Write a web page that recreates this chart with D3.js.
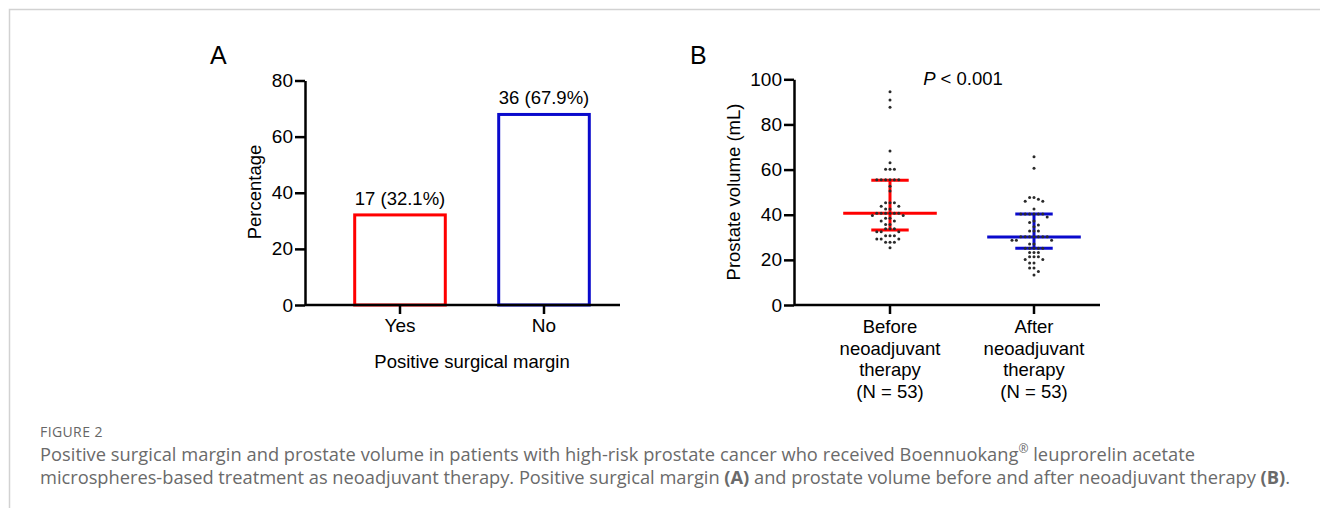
<!DOCTYPE html>
<html>
<head>
<meta charset="utf-8">
<script src="https://cdn.jsdelivr.net/npm/d3@7"></script>
<style>
  body { margin: 0; background: #fff; }
  svg { display: block; }
</style>
</head>
<body>
<div id="chart"></div>
<script>
var svgWidth = 1320;
var svgHeight = 508;

// panel A data
var marginCats = ["Yes", "No"];
var marginPct = [32.1, 67.9];
var marginLabels = ["17 (32.1%)", "36 (67.9%)"];
var marginColors = ["#ff0000", "#0a0acc"];
var pctTicks = [0, 20, 40, 60, 80];

// panel B data
var groupCats = ["Before", "After"];
var groupLabels = [["Before", "neoadjuvant", "therapy", "(N = 53)"],
                   ["After", "neoadjuvant", "therapy", "(N = 53)"]];
var volumeBefore = [94.5, 90.8, 87.6, 68.2, 63.0,
  60.1, 60.1, 60.1,
  55.5, 55.5, 55.5, 55.5, 55.5, 55.5,
  52.6, 50.5,
  45.3, 45.3, 45.3,
  43.7, 43.7, 42.5, 42.5,
  40.6, 40.6, 40.6, 40.6, 40.6, 40.6,
  39.6, 39.6, 38.4, 38.4, 37.2, 37.2, 35.7, 35.7,
  33.8, 33.8, 33.8, 32.5, 32.5, 32.5,
  30.7, 30.7, 30.7, 29.2, 29.2, 29.2,
  27.8, 27.8, 27.8, 25.4];
var volumeAfter = [65.7, 60.6,
  47.6, 47.6, 46.8, 46.0, 46.0,
  42.5,
  40.3, 40.3, 40.3, 40.3, 40.3, 40.3,
  39.0, 37.2, 36.6, 35.5, 34.7,
  32.8, 32.8, 32.8,
  30.2, 30.2, 30.2, 30.2, 30.2, 30.2, 30.2,
  28.7, 28.7, 28.7, 27.0, 27.0,
  25.1, 25.1, 25.1, 25.1, 25.1,
  23.3, 23.3, 23.3, 21.4, 21.4, 21.4,
  20.2, 20.2, 18.6, 18.6, 16.4, 16.4, 14.8, 13.3];
var volMedian = [40.6, 30.1];
var volQ1 = [33.2, 25.1];
var volQ3 = [55.3, 40.3];
var groupColors = ["#ff0000", "#0a0acc"];
var volTicks = [0, 20, 40, 60, 80, 100];

var captionTitle = "FIGURE 2";
var captionLine1 = ["Positive surgical margin and prostate volume in patients with high-risk prostate cancer who received Boennuokang", "\u00AE", " leuprorelin acetate"];
var captionLine2 = ["microspheres-based treatment as neoadjuvant therapy. Positive surgical margin ", "(A)", " and prostate volume before and after neoadjuvant therapy ", "(B)", "."];

var font = "'Liberation Sans', Arial, sans-serif";

var svg = d3.select("#chart")
  .append("svg")
  .attr("width", svgWidth)
  .attr("height", svgHeight)
  .style("font-family", font);

// frame
svg.append("path")
  .attr("d", "M9.5,508 V9.5 H1320")
  .attr("fill", "none")
  .attr("stroke", "#d2d2d2")
  .attr("stroke-width", 1.5);

function styleAxis(g) {
  g.selectAll("path, line").attr("stroke", "#000").attr("stroke-width", 2.5);
  g.selectAll("text").attr("fill", "#000").style("font-size", "19px").style("font-family", font);
}

// ---------- Panel A ----------
var yA = d3.scaleLinear().domain([0, 80]).range([305, 80.5]);
var xA = d3.scaleBand().domain(marginCats).range([302.8, 641.2]).padding(0.35);

svg.append("text")
  .attr("x", 210).attr("y", 64)
  .style("font-size", "25px")
  .text("A");

svg.selectAll(".barA")
  .data(marginCats)
  .enter()
  .append("rect")
  .attr("x", d => xA(d) + 1.5)
  .attr("y", (d, i) => yA(marginPct[i]))
  .attr("width", xA.bandwidth() - 3)
  .attr("height", (d, i) => yA(0) - yA(marginPct[i]))
  .attr("fill", "none")
  .attr("stroke", (d, i) => marginColors[i])
  .attr("stroke-width", 3);

svg.selectAll(".barLabel")
  .data(marginCats)
  .enter()
  .append("text")
  .attr("x", d => xA(d) + xA.bandwidth() / 2)
  .attr("y", (d, i) => yA(marginPct[i]) - 10)
  .attr("text-anchor", "middle")
  .style("font-size", "18.5px")
  .text((d, i) => marginLabels[i]);

var yAxisA = svg.append("g")
  .attr("transform", "translate(305,0)")
  .call(d3.axisLeft(yA).tickValues(pctTicks).tickSize(10).tickPadding(2).tickSizeOuter(0));
styleAxis(yAxisA);

var xAxisA = svg.append("g")
  .attr("transform", "translate(0,305)")
  .call(d3.axisBottom(xA).tickSize(9).tickPadding(5).tickSizeOuter(0));
xAxisA.select(".domain").attr("d", "M305,0H620");
styleAxis(xAxisA);

svg.append("text")
  .attr("transform", "translate(261,192) rotate(-90)")
  .attr("text-anchor", "middle")
  .style("font-size", "18.5px")
  .text("Percentage");

svg.append("text")
  .attr("x", 472).attr("y", 368)
  .attr("text-anchor", "middle")
  .style("font-size", "18.5px")
  .text("Positive surgical margin");

// ---------- Panel B ----------
var yB = d3.scaleLinear().domain([0, 100]).range([305, 79.3]);
var xB = d3.scaleBand().domain(groupCats).range([792.8, 1131.2]).padding(0.35);

svg.append("text")
  .attr("x", 690).attr("y", 64)
  .style("font-size", "25px")
  .text("B");

svg.append("text")
  .attr("x", 963).attr("y", 85)
  .attr("text-anchor", "middle")
  .style("font-size", "18.5px")
  .call(t => {
    t.append("tspan").style("font-style", "italic").text("P");
    t.append("tspan").text(" < 0.001");
  });

// dots: simple beeswarm, spread sideways to avoid overlap
var dots = [];
[volumeBefore, volumeAfter].forEach(function(vals, gi) {
  var placed = [];
  vals.slice().sort((a, b) => b - a).forEach(function(v) {
    var y = yB(v);
    var off = 0;
    for (var k = 0; k < 40; k++) {
      var cand = (k % 2 === 0 ? 1 : -1) * Math.ceil(k / 2) * 4.4;
      var hit = placed.some(p => Math.abs(p.off - cand) < 3.9 && Math.abs(p.y - y) < 3.9);
      if (!hit) { off = cand; break; }
    }
    placed.push({ off: off, y: y });
    dots.push({ g: gi, v: v, off: off });
  });
});

// error bars (median with IQR)
groupCats.forEach(function(c, i) {
  var cx = xB(c) + xB.bandwidth() / 2;
  var w = xB.bandwidth();
  var capW = w * 0.4;
  var g = svg.append("g").attr("stroke", groupColors[i]).attr("stroke-width", 3);
  g.append("line").attr("x1", cx).attr("x2", cx).attr("y1", yB(volQ1[i])).attr("y2", yB(volQ3[i]));
  g.append("line").attr("x1", cx - w / 2).attr("x2", cx + w / 2).attr("y1", yB(volMedian[i])).attr("y2", yB(volMedian[i]));
  g.append("line").attr("x1", cx - capW / 2).attr("x2", cx + capW / 2).attr("y1", yB(volQ1[i])).attr("y2", yB(volQ1[i]));
  g.append("line").attr("x1", cx - capW / 2).attr("x2", cx + capW / 2).attr("y1", yB(volQ3[i])).attr("y2", yB(volQ3[i]));
});

svg.selectAll(".dot")
  .data(dots)
  .enter()
  .append("circle")
  .attr("cx", d => xB(groupCats[d.g]) + xB.bandwidth() / 2 + d.off)
  .attr("cy", d => yB(d.v))
  .attr("r", 1.5)
  .attr("fill", "#2a2a2a");

var yAxisB = svg.append("g")
  .attr("transform", "translate(794,0)")
  .call(d3.axisLeft(yB).tickValues(volTicks).tickSize(10).tickPadding(2).tickSizeOuter(0));
styleAxis(yAxisB);

var xAxisB = svg.append("g")
  .attr("transform", "translate(0,305)")
  .call(d3.axisBottom(xB).tickSize(9).tickPadding(5).tickSizeOuter(0).tickFormat(""));
xAxisB.select(".domain").attr("d", "M794,0H1100");
styleAxis(xAxisB);

groupCats.forEach(function(c, i) {
  var t = svg.append("text")
    .attr("x", xB(c) + xB.bandwidth() / 2)
    .attr("y", 333)
    .attr("text-anchor", "middle")
    .style("font-size", "18.5px");
  groupLabels[i].forEach(function(line, k) {
    t.append("tspan")
      .attr("x", xB(c) + xB.bandwidth() / 2)
      .attr("dy", k === 0 ? 0 : 21.5)
      .text(line);
  });
});

svg.append("text")
  .attr("transform", "translate(740,192) rotate(-90)")
  .attr("text-anchor", "middle")
  .style("font-size", "18.5px")
  .text("Prostate volume (mL)");

// ---------- Caption ----------
var capFont = "'Open Sans', 'Noto Sans', sans-serif";
svg.append("text")
  .attr("x", 40).attr("y", 437)
  .attr("fill", "#666")
  .style("font-family", capFont)
  .style("font-size", "14px")
  .style("letter-spacing", "0.4px")
  .text(captionTitle);

var l1 = svg.append("text")
  .attr("x", 40).attr("y", 461)
  .attr("fill", "#6a6a6a")
  .style("font-family", capFont)
  .style("font-size", "17px");
l1.append("tspan").text(captionLine1[0]);
l1.append("tspan").attr("baseline-shift", "super").style("font-size", "12px").text(captionLine1[1]);
l1.append("tspan").text(captionLine1[2]);

var l2 = svg.append("text")
  .attr("x", 40).attr("y", 484)
  .attr("fill", "#6a6a6a")
  .style("font-family", capFont)
  .style("font-size", "17px");
captionLine2.forEach(function(s, i) {
  l2.append("tspan").style("font-weight", (i === 1 || i === 3) ? "bold" : "normal").text(s);
});

// fit caption lines to the reference widths
var target1 = 1155, target2 = 1250;
var w1 = l1.node().getComputedTextLength();
var w2 = l2.node().getComputedTextLength();
var fs = 17 * (target1 + target2) / (w1 + w2);
l1.style("font-size", fs + "px");
l2.style("font-size", fs + "px");
[[l1, target1], [l2, target2]].forEach(function(p) {
  var n = p[0].text().length;
  var w = p[0].node().getComputedTextLength();
  p[0].style("letter-spacing", ((p[1] - w) / n) + "px");
});
</script>
</body>
</html>
